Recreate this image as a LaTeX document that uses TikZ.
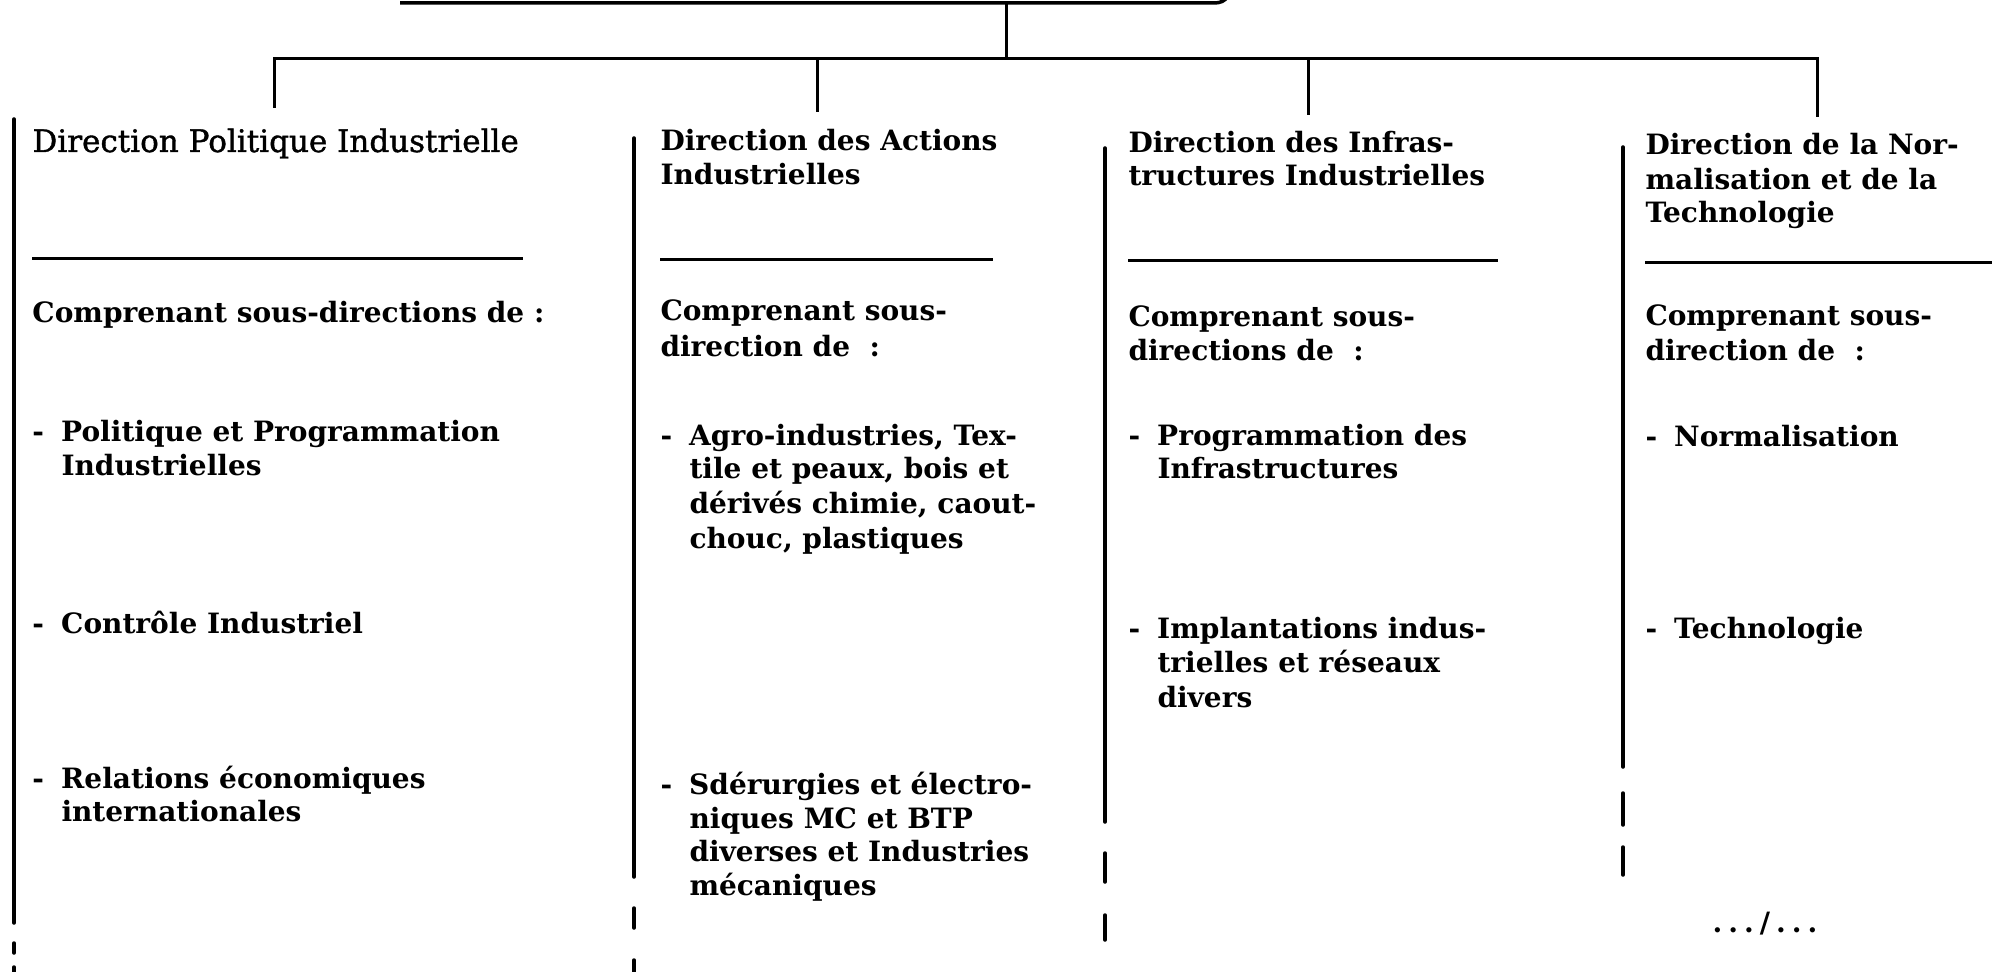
\documentclass[tikz,border=0pt]{standalone}
\usepackage{fontspec}
\setmainfont{DejaVu Serif}
\newfontfamily\hdfamily[FakeBold=1.2]{DejaVu Serif}
\newcommand{\dsh}{\makebox[11.5pt][l]{-}}
\tikzset{
  txt/.style={anchor=base west, inner sep=0pt, font=\fontsize{11.2}{13.6}\selectfont\bfseries},
  hdr/.style={anchor=base west, inner sep=0pt, font=\hdfamily\fontsize{12.4}{14}\selectfont},
  colline/.style={line width=1.4pt, line cap=round},
  sep/.style={line width=1.2pt},
  conn/.style={line width=1.2pt}
}
\begin{document}
\begin{tikzpicture}[x=0.4pt,y=-0.4pt]
\useasboundingbox (0,0) rectangle (1999,972);
% top box (cut off) bottom edge
\draw[sep, line width=1.4pt] (400,3) -- (1214,3) to[out=0,in=-120] (1228,-4);
% connectors
\coordinate (tb) at (1006,3);
\coordinate (j0) at (1006,59);
\coordinate (j1) at (274,59);
\coordinate (j2) at (817,59);
\coordinate (j3) at (1308,59);
\coordinate (j4) at (1817,59);
\coordinate (d1) at (274,108);
\coordinate (d2) at (817,112);
\coordinate (d3) at (1308,115);
\coordinate (d4) at (1817,117);
\draw[conn] (tb) -- (j0);
\draw[conn] (d1) -- (j1) -- (j4) -- (d4);
\draw[conn] (j2) -- (d2);
\draw[conn] (j3) -- (d3);
% column side lines
\draw[colline] (14,119) -- (14,923);
\draw[colline] (14,943) -- (14,953);
\draw[colline] (14,967) -- (14,975);
\draw[colline] (634,138) -- (634,877);
\draw[colline] (634,908) -- (634,928);
\draw[colline] (634,960) -- (634,975);
\draw[colline] (1105,148) -- (1105,822);
\draw[colline] (1105,853) -- (1105,882);
\draw[colline] (1105,915) -- (1105,940);
\draw[colline] (1623,147) -- (1623,767);
\draw[colline] (1623,793) -- (1623,825);
\draw[colline] (1623,847) -- (1623,875);
% separators
\draw[sep] (32,259) -- (523,259);
\draw[sep] (660,260) -- (993,260);
\draw[sep] (1128,261) -- (1498,261);
\draw[sep] (1645,263) -- (1992,263);
% column 1
\node[hdr] (h1) at (32,152) {Direction Politique Industrielle};
\node[txt] (p1) at (32,323) {Comprenant sous-directions de :};
\node[txt] (a1) at (32,441) {\dsh Politique et Programmation};
\node[txt] (a1b) at (61,475) {Industrielles};
\node[txt] (b1) at (32,633) {\dsh Contrôle Industriel};
\node[txt] (c1) at (32,788) {\dsh Relations économiques};
\node[txt] (c1b) at (61,821) {internationales};
% column 2
\node[txt] (h2) at (660,151) {Direction des Actions};
\node[txt] (h2b) at (660,185) {Industrielles};
\node[txt] (p2) at (660,321) {Comprenant sous-};
\node[txt] (p2b) at (660,356) {direction de\ \ :};
\node[txt] (a2) at (660,445) {\dsh Agro-industries, Tex-};
\node[txt] (a2b) at (689,478) {tile et peaux, bois et};
\node[txt] (a2c) at (689,513) {dérivés chimie, caout-};
\node[txt] (a2d) at (689,548) {chouc, plastiques};
\node[txt] (b2) at (660,794) {\dsh Sdérurgies et électro-};
\node[txt] (b2b) at (689,828) {niques MC et BTP};
\node[txt] (b2c) at (689,861) {diverses et Industries};
\node[txt] (b2d) at (689,895) {mécaniques};
% column 3
\node[txt] (h3) at (1128,153) {Direction des Infras-};
\node[txt] (h3b) at (1128,186) {tructures Industrielles};
\node[txt] (p3) at (1128,327) {Comprenant sous-};
\node[txt] (p3b) at (1128,360) {directions de\ \ :};
\node[txt] (a3) at (1128,445) {\dsh Programmation des};
\node[txt] (a3b) at (1157,478) {Infrastructures};
\node[txt] (b3) at (1128,638) {\dsh Implantations indus-};
\node[txt] (b3b) at (1157,672) {trielles et réseaux};
\node[txt] (b3c) at (1157,707) {divers};
% column 4
\node[txt] (h4) at (1645,155) {Direction de la Nor-};
\node[txt] (h4b) at (1645,190) {malisation et de la};
\node[txt] (h4c) at (1645,223) {Technologie};
\node[txt] (p4) at (1645,326) {Comprenant sous-};
\node[txt] (p4b) at (1645,361) {direction de\ \ :};
\node[txt] (a4) at (1645,446) {\dsh Normalisation};
\node[txt] (b4) at (1645,638) {\dsh Technologie};
\node[txt, anchor=base] (cont) at (1765,932) {.\kern2.4pt.\kern2.4pt.\kern2.4pt/\kern2.4pt.\kern2.4pt.\kern2.4pt.};
\end{tikzpicture}
\end{document}
